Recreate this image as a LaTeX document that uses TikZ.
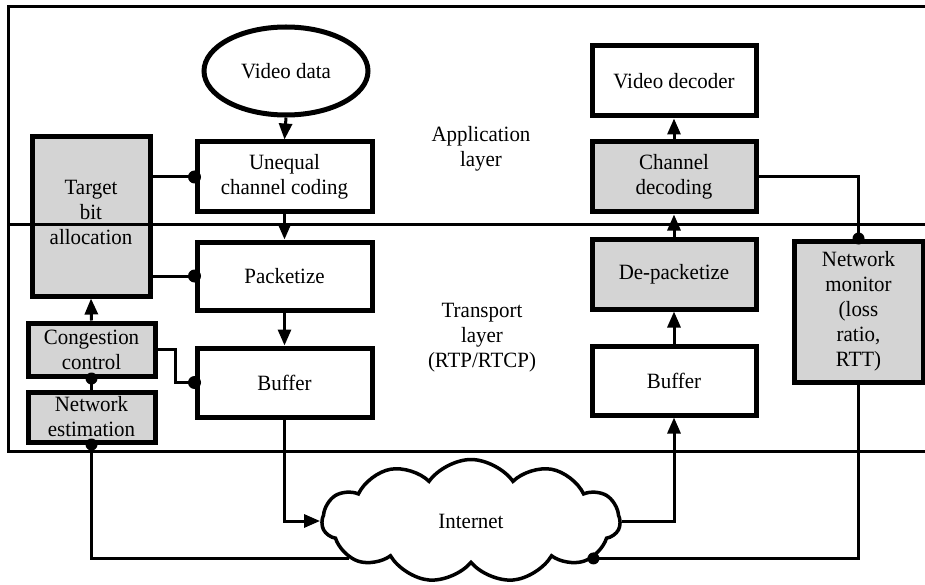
\documentclass[tikz,border=0pt]{standalone}
\usepackage{fontspec}
\setmainfont{Liberation Serif}[FakeStretch=0.96]
\usetikzlibrary{arrows.meta,shapes.geometric,shapes.symbols,calc}
\definecolor{boxgray}{HTML}{D4D4D4}

\begin{document}
\begin{tikzpicture}[x=1pt,y=-1pt,
  font=\fontsize{21.8}{25}\selectfont,
  box/.style={draw,line width=5pt,align=center,inner sep=0pt,
              minimum width=164pt,minimum height=70pt},
  shaded/.style={box,fill=boxgray},
  link/.style={line width=3pt},
  arr/.style={link,-{Triangle[length=16pt,width=13pt]}},
  frame/.style={line width=3pt},
  lbl/.style={align=center},
]
\useasboundingbox (0,0) rectangle (925,585);

% layer frame
\draw[frame] (925,7) -- (8,7) -- (8,451) -- (925,451);

% sender side
\node[draw,ellipse,line width=5pt,minimum width=164pt,minimum height=88pt,inner sep=0pt]
  (vdata) at (286,71) {Video data};
\node[box,minimum width=175pt] (ucc) at (284.5,177) {Unequal\\channel coding};
\node[box,minimum width=175pt,minimum height=68pt] (pkt) at (284.5,276) {Packetize};
\node[box,minimum width=175pt,minimum height=69pt] (buf1) at (284.5,382.5) {Buffer};
\node[shaded,minimum width=118pt,minimum height=159pt] (tba) at (91,216.5) {Target\\bit\\allocation\\[-16pt]};
\node[shaded,minimum width=127pt,minimum height=53pt] (cc) at (91.5,349.5) {Congestion\\control};
\node[shaded,minimum width=127pt,minimum height=50pt] (ne) at (91.5,417) {Network\\estimation};

% receiver side
\node[box] (vdec) at (674,81) {Video decoder};
\node[shaded] (cdec) at (674,177) {Channel\\decoding};
\node[shaded] (dpk) at (674,274) {De-packetize};
\node[box,minimum height=69pt] (buf2) at (674,380.5) {Buffer};
\node[shaded,minimum width=129pt,minimum height=141pt] (nm) at (858.5,311.5) {Network\\monitor\\(loss\\ratio,\\RTT)};

% layer labels
\node[lbl] (applbl) at (481,149) {Application\\layer};
\node[lbl] (trlbl) at (482,338) {Transport\\layer\\(RTP/RTCP)};

% network cloud
\node[cloud,draw,fill=white,line width=3.5pt,cloud puffs=11,cloud puff arc=110,aspect=2.4,
      minimum width=298pt,minimum height=123pt,inner sep=0pt] (net) at (471,521) {Internet};

% layer divider
\draw[frame] (8,225) -- (925,225);

% sender connectors
\draw[arr] (vdata.south) -- (ucc.north);
\draw[arr] (ucc.south) -- (pkt.north);
\draw[arr] (pkt.south) -- (buf1.north);
\draw[link] (tba.east |- ucc.west) -- (ucc.west);
\fill (ucc.west) circle (6.5pt);
\draw[link] (tba.east |- pkt.west) -- (pkt.west);
\fill (pkt.west) circle (6.5pt);
\draw[arr] (cc.north) -- (tba.south);
\draw[link] (cc.south) -- (ne.north);
\fill (cc.south) circle (6pt);
\draw[link] (cc.east) -- ++(18,0) |- (buf1.west);
\fill (buf1.west) circle (6.5pt);
\draw[arr] (buf1.south) |- (net.west);
\draw[link] (ne.south) |- (net.197);
\fill (ne.south) circle (6pt);

% receiver connectors
\draw[arr] (net.east) -| (buf2.south);
\draw[arr] (buf2.north) -- (dpk.south);
\draw[arr] (dpk.north) -- (cdec.south);
\draw[arr] (cdec.north) -- (vdec.south);
\draw[link] (cdec.east) -| (nm.north);
\fill (nm.north) circle (6pt);
\draw[link] (nm.south) |- (net.-17);
\fill (net.-17) circle (6pt);
\end{tikzpicture}
\end{document}
